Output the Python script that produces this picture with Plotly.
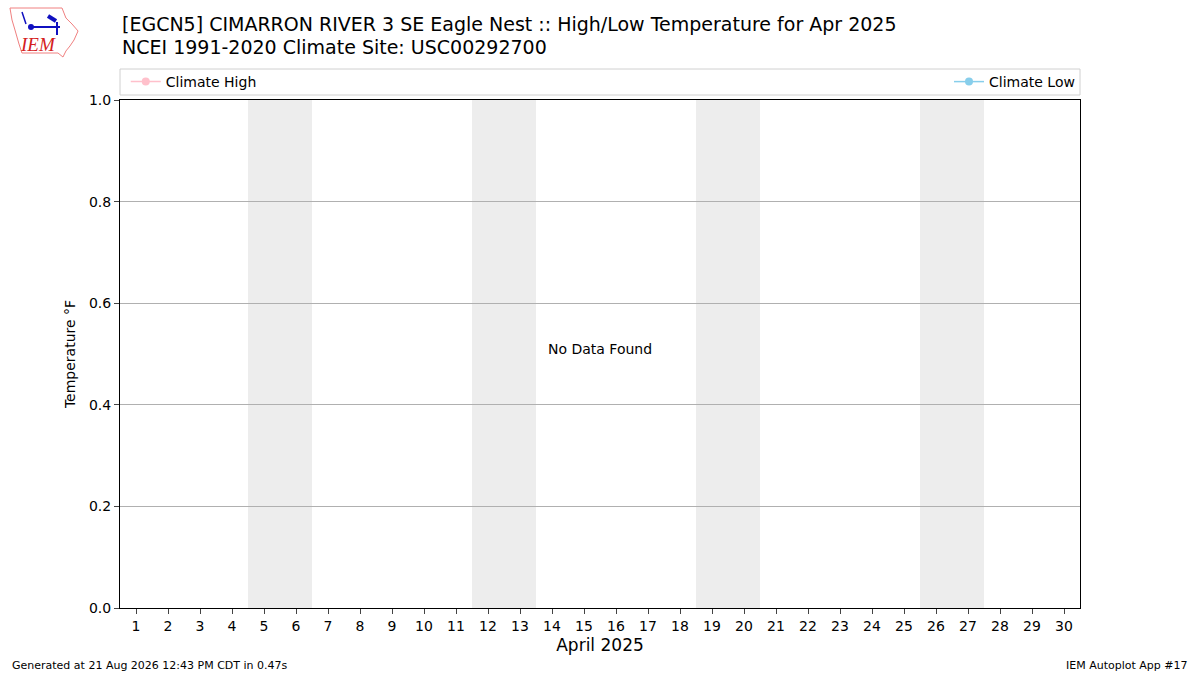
import plotly.graph_objects as go

days = list(range(1, 31))
weekend_days = [5, 6, 12, 13, 19, 20, 26, 27]
climate_high = []
climate_low = []
y_ticks = [0.0, 0.2, 0.4, 0.6, 0.8, 1.0]

W, H = 1200, 675
L, R, T, B = 120, 120, 100, 67
pw = W - L - R
ph = H - T - B


def px(p):
    # pixel column -> paper x
    return (p - L) / pw


def py(p):
    # pixel row -> paper y
    return (H - B - p) / ph


fig = go.Figure()
fig.add_trace(go.Scatter(x=climate_high or [None], y=[None], mode="lines+markers",
                         name="Climate High", line=dict(color="pink", width=1.5),
                         marker=dict(color="pink", size=8), legend="legend"))
fig.add_trace(go.Scatter(x=climate_low or [None], y=[None], mode="lines+markers",
                         name="Climate Low", line=dict(color="skyblue", width=1.5),
                         marker=dict(color="skyblue", size=8), legend="legend2"))

shapes = []
for d in weekend_days:
    shapes.append(dict(type="rect", xref="x", yref="paper", x0=d - 0.5, x1=d + 0.5,
                       y0=0, y1=1, fillcolor="#ededed", line=dict(width=0), layer="below"))
# legend frame
shapes.append(dict(type="rect", xref="paper", yref="paper", x0=0, x1=1,
                   y0=py(95), y1=py(69), line=dict(color="#d0d0d0", width=1)))
# rough logo: state outline and station symbol
outline = [(10, 8), (62, 8), (66, 18), (72, 24), (78, 31), (74, 40), (70, 46),
           (66, 51), (63, 57), (58, 53), (22, 53), (19, 44), (15, 30), (12, 20)]
path = "M " + " L ".join(f"{px(x):.4f},{py(y):.4f}" for x, y in outline) + " Z"
shapes.append(dict(type="path", xref="paper", yref="paper", path=path,
                   line=dict(color="#f08080", width=1)))
blue = dict(color="#1010c0", width=2)
shapes.append(dict(type="line", xref="paper", yref="paper", x0=px(31), x1=px(60),
                   y0=py(27), y1=py(27), line=blue))
shapes.append(dict(type="line", xref="paper", yref="paper", x0=px(57), x1=px(57),
                   y0=py(22), y1=py(35), line=blue))
shapes.append(dict(type="line", xref="paper", yref="paper", x0=px(48), x1=px(56),
                   y0=py(16), y1=py(21), line=dict(color="#1010c0", width=4)))
shapes.append(dict(type="line", xref="paper", yref="paper", x0=px(22), x1=px(26),
                   y0=py(12), y1=py(24), line=dict(color="#1010c0", width=1.5)))
shapes.append(dict(type="circle", xref="paper", yref="paper", x0=px(28), x1=px(34),
                   y0=py(30), y1=py(24), fillcolor="#1010c0", line=dict(width=0)))

fig.update_layout(
    width=W, height=H,
    margin=dict(l=L, r=R, t=T, b=B),
    plot_bgcolor="white", paper_bgcolor="white",
    font=dict(family="DejaVu Sans", size=14, color="black"),
    shapes=shapes,
    legend=dict(x=0.006, xanchor="left", y=py(82), yanchor="middle",
                orientation="h", bgcolor="rgba(0,0,0,0)", font=dict(size=14)),
    legend2=dict(x=1.0, xanchor="right", y=py(82), yanchor="middle",
                 orientation="h", bgcolor="rgba(0,0,0,0)", font=dict(size=14)),
    xaxis=dict(range=[0.5, 30.5], tickvals=days, ticks="outside", ticklen=5,
               showgrid=False, zeroline=False, showline=True, linecolor="black",
               mirror=True, title=dict(text="April 2025", font=dict(size=17), standoff=6)),
    yaxis=dict(range=[0, 1], tickvals=y_ticks, tickformat=".1f", ticks="outside",
               ticklen=5, showgrid=True, gridcolor="#b0b0b0", zeroline=False,
               showline=True, linecolor="black", mirror=True,
               title=dict(text="Temperature °F", font=dict(size=14), standoff=10)),
    showlegend=True,
)

fig.add_annotation(text="[EGCN5] CIMARRON RIVER 3 SE Eagle Nest :: High/Low Temperature for Apr 2025",
                   xref="paper", yref="paper", x=0, y=py(24), xanchor="left", yanchor="middle",
                   showarrow=False, font=dict(size=19))
fig.add_annotation(text="NCEI 1991-2020 Climate Site: USC00292700",
                   xref="paper", yref="paper", x=0, y=py(47), xanchor="left", yanchor="middle",
                   showarrow=False, font=dict(size=19))
fig.add_annotation(text="No Data Found", xref="x", yref="y", x=15.5, y=0.51,
                   showarrow=False, font=dict(size=14))
fig.add_annotation(text="Generated at 21 Aug 2026 12:43 PM CDT in 0.47s",
                   xref="paper", yref="paper", x=px(10), y=py(665),
                   xanchor="left", yanchor="middle", showarrow=False, font=dict(size=11))
fig.add_annotation(text="IEM Autoplot App #17",
                   xref="paper", yref="paper", x=px(1190), y=py(665),
                   xanchor="right", yanchor="middle", showarrow=False, font=dict(size=11))
# logo text
fig.add_annotation(text="<i>IEM</i>", xref="paper", yref="paper",
                   x=px(38), y=py(45), xanchor="center", yanchor="middle",
                   showarrow=False, font=dict(family="Liberation Serif", size=19, color="#d42020"))

fig.write_html("out.html", config={"displayModeBar": False},
               post_script="document.body.style.margin='0';")
